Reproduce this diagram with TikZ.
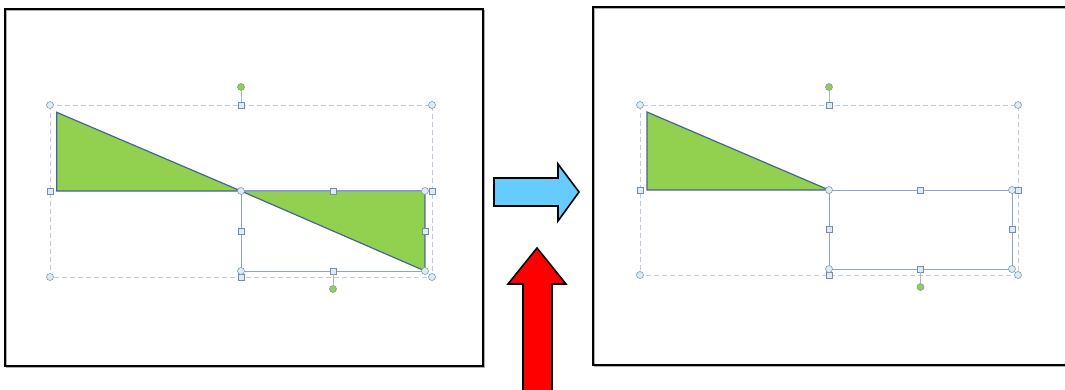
\documentclass[tikz,border=0pt]{standalone}
\usepackage{tikz}
\usetikzlibrary{positioning,calc}
\definecolor{shapegreen}{RGB}{146,208,80}
\definecolor{shapeline}{RGB}{70,100,150}
\definecolor{selline}{RGB}{140,165,195}
\definecolor{dashline}{RGB}{190,205,220}
\definecolor{handlefill}{RGB}{220,236,246}
\definecolor{handledraw}{RGB}{135,155,170}
\definecolor{arrowblue}{RGB}{102,204,255}
\definecolor{framegray}{RGB}{175,175,175}
\tikzset{
  hc/.style={circle,draw=handledraw,fill=handlefill,minimum size=7pt,
             inner sep=0pt,line width=0.6pt},
  hs/.style={rectangle,draw=selline!85!black,fill=handlefill,minimum size=6pt,
             inner sep=0pt,line width=0.6pt},
  hr/.style={hc,fill=shapegreen},
  tri/.style={fill=shapegreen,draw=shapeline,line width=1.2pt,line join=miter},
  selbox/.style={draw=selline,line width=1pt},
  grpbox/.style={draw=dashline,dash pattern=on 5pt off 3pt,line width=0.8pt},
  rotline/.style={draw=handledraw!70,line width=0.8pt},
  frame/.style={draw=black,line width=2pt},
  frameshadow/.style={draw=framegray,line width=1pt},
  blockarrow/.style={draw=black,line width=1.6pt,line join=miter},
}

\begin{document}
\begin{tikzpicture}[x=1pt,y=-1pt]
  \useasboundingbox (0,0) rectangle (1065,389);
  \clip (0,0) rectangle (1065,389);

  % slide frames
  \draw[frameshadow] (6.5,10) rectangle (484.5,367.5);
  \draw[frame] (5,8.5) rectangle (483,366);
  \draw[frameshadow] (594.5,8.5) rectangle (1080,366.5);
  \draw[frame] (593,7) rectangle (1080,365);

  % left slide: group and selected part
  \draw[grpbox] (50,105) rectangle (432,277);
  \draw[tri] (56.7,112.3) -- (56.7,191) -- (241,191) -- cycle;
  \draw[tri] (241,191) -- (425,191) -- (425,271) -- cycle;
  \draw[selbox] (241,191) rectangle (425,271);

  \node[hc] (lgNW) at (50,105) {};
  \node[hc] (lgNE) at (432,105) {};
  \node[hc] (lgSW) at (50,277) {};
  \node[hc] (lgSE) at (432,277) {};
  \node[hs] (lgN) at (241,105) {};
  \node[hs] (lgW) at (50,191) {};
  \node[hs] (lgE) at (432,191) {};
  \node[hs] (lgS) at (241,277) {};
  \node[hr] (lgR) at (241,87) {};
  \draw[rotline] (lgR) -- (lgN);

  \node[hc] (lsNW) at (241,191) {};
  \node[hc] (lsNE) at (425,191) {};
  \node[hc] (lsSW) at (241,271) {};
  \node[hc] (lsSE) at (425,271) {};
  \node[hs] (lsN) at (333,191) {};
  \node[hs] (lsW) at (241,231) {};
  \node[hs] (lsE) at (425,231) {};
  \node[hs] (lsS) at (333,271) {};
  \node[hr] (lsR) at (333,289) {};
  \draw[rotline] (lsS) -- (lsR);

  % arrows
  \draw[blockarrow,fill=arrowblue] (494,178) -- (558,178) -- (558,164)
    -- (579,192) -- (558,221) -- (558,206) -- (494,206) -- cycle;
  \draw[blockarrow,fill=red] (523,395) -- (523,284) -- (508,284)
    -- (537,248) -- (566,284) -- (552,284) -- (552,395);

  % right slide: part removed
  \draw[grpbox] (640,105) rectangle (1018,275);
  \draw[tri] (647,112) -- (647,190) -- (829,190) -- cycle;
  \draw[selbox] (829,190) rectangle (1012,269);

  \node[hc] (rgNW) at (640,105) {};
  \node[hc] (rgNE) at (1018,105) {};
  \node[hc] (rgSW) at (640,275) {};
  \node[hc] (rgSE) at (1018,275) {};
  \node[hs] (rgN) at (829,105) {};
  \node[hs] (rgW) at (640,190) {};
  \node[hs] (rgE) at (1018,190) {};
  \node[hs] (rgS) at (829,275) {};
  \node[hr] (rgR) at (829,87) {};
  \draw[rotline] (rgR) -- (rgN);

  \node[hc] (rsNW) at (829,190) {};
  \node[hc] (rsNE) at (1012,190) {};
  \node[hc] (rsSW) at (829,269) {};
  \node[hc] (rsSE) at (1012,269) {};
  \node[hs] (rsN) at (920.5,190) {};
  \node[hs] (rsW) at (829,229.5) {};
  \node[hs] (rsE) at (1012,229.5) {};
  \node[hs] (rsS) at (920.5,269) {};
  \node[hr] (rsR) at (920.5,287) {};
  \draw[rotline] (rsS) -- (rsR);
\end{tikzpicture}
\end{document}
